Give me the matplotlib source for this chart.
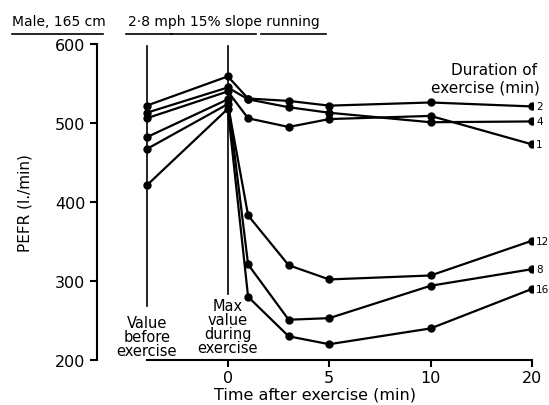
import matplotlib
matplotlib.use('Agg')
import matplotlib.pyplot as plt
from matplotlib.lines import Line2D

# time points: -4 = value before exercise, 0 = max value during exercise
times = [-4, 0, 1, 3, 5, 10, 20]
durations = ['1', '2', '4', '8', '12', '16']
pefr_1 = [506, 540, 506, 495, 505, 509, 473]
pefr_2 = [522, 559, 531, 528, 522, 526, 521]
pefr_4 = [513, 545, 530, 520, 513, 501, 502]
pefr_8 = [482, 530, 321, 251, 253, 294, 315]
pefr_12 = [467, 524, 383, 320, 302, 307, 351]
pefr_16 = [421, 518, 280, 230, 220, 240, 290]
series = [pefr_1, pefr_2, pefr_4, pefr_8, pefr_12, pefr_16]

x_ticks = [0, 5, 10, 20]
x_tick_labels = ['0', '5', '10', '20']
y_ticks = [200, 300, 400, 500, 600]


def xpos(t):
    # the scale is broken between 10 and 20 min
    return t if t <= 10 else 10 + (t - 10) * 0.5


plt.rcParams['font.family'] = 'DejaVu Sans'
fig = plt.figure(figsize=(5.49, 4.06), dpi=100)
ax = fig.add_axes([0.1767, 0.1108, 0.7942, 0.7783])

xs = [xpos(t) for t in times]
for vals in series:
    ax.plot(xs, vals, '-o', color='black', lw=1.6, ms=5)

for name, vals in zip(durations, series):
    ax.text(xpos(20) + 0.2, vals[-1], name, fontsize=7.5, va='center', ha='left')

# reference lines for the "before" and "max" values
ax.plot([-4, -4], [268, 598], color='black', lw=1.2)
ax.plot([0, 0], [284, 598], color='black', lw=1.2)
ax.text(-4, 257, 'Value\nbefore\nexercise', ha='center', va='top', fontsize=10.5,
        linespacing=0.9)
ax.text(0, 278, 'Max\nvalue\nduring\nexercise', ha='center', va='top', fontsize=10.5,
        linespacing=0.9)

ax.set_xlim(-6.45, 15.05)
ax.set_ylim(200, 600)
ax.set_xticks([xpos(t) for t in x_ticks])
ax.set_xticklabels(x_tick_labels)
ax.set_yticks(y_ticks)
ax.spines['top'].set_visible(False)
ax.spines['right'].set_visible(False)
ax.spines['bottom'].set_bounds(-4, 15)
ax.spines['left'].set_linewidth(1.5)
ax.spines['bottom'].set_linewidth(1.5)
ax.tick_params(direction='out', length=5, width=1.5, labelsize=11.5)
ax.tick_params(axis='x', pad=2)
ax.set_xlabel('Time after exercise (min)', fontsize=11.5, labelpad=1)
ax.set_ylabel('PEFR (l./min)', fontsize=11, labelpad=16)

# header texts with underlines
fig.text(12 / 549, 1 - 22 / 406, 'Male, 165 cm', fontsize=10, va='center', ha='left')
fig.text(128 / 549, 1 - 22 / 406, '2·8 mph 15% slope running', fontsize=10,
         va='center', ha='left')
for x0, x1 in [(12, 103), (126, 172), (171, 256), (261, 326)]:
    fig.add_artist(Line2D([x0 / 549, x1 / 549], [1 - 35 / 406] * 2, color='black', lw=1.2))

fig.text(537 / 549, 1 - 71 / 406, 'Duration of', fontsize=11, ha='right', va='center')
fig.text(540 / 549, 1 - 88 / 406, 'exercise (min)', fontsize=11, ha='right', va='center')

fig.savefig('out.png', dpi=100)
